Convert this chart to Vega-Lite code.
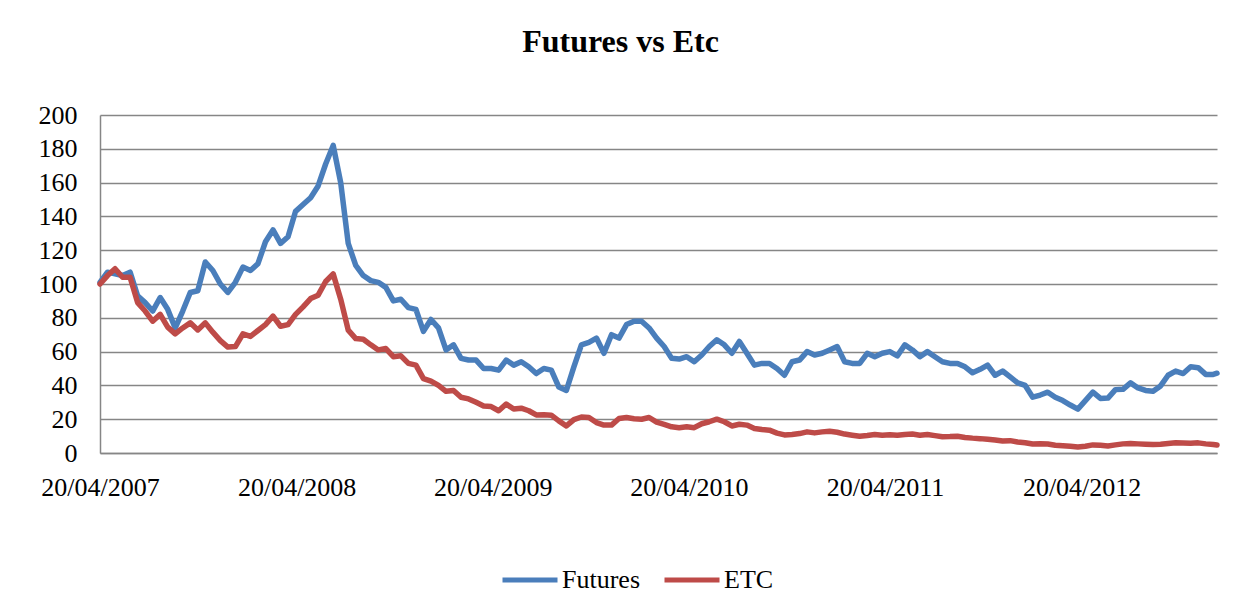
{
  "$schema": "https://vega.github.io/schema/vega-lite/v6.json",
  "width": 1117,
  "height": 338,
  "autosize": {"type": "none"},
  "padding": {"left": 100, "top": 115, "right": 33, "bottom": 159},
  "background": "white",
  "title": {
    "text": "Futures vs Etc",
    "font": "Liberation Serif",
    "fontSize": 32,
    "fontWeight": "bold",
    "color": "black",
    "anchor": "middle",
    "dx": -38,
    "baseline": "alphabetic",
    "offset": 18
  },
  "config": {
    "view": {"stroke": null},
    "axis": {"labelFont": "Liberation Serif", "labelFontSize": 26, "labelColor": "black"}
  },
  "data": {"values": [
    {"d":"2007-04-20","Futures":101,"ETC":100},
    {"d":"2007-05-04","Futures":107,"ETC":105},
    {"d":"2007-05-18","Futures":106,"ETC":109},
    {"d":"2007-06-01","Futures":105,"ETC":104},
    {"d":"2007-06-15","Futures":107,"ETC":104},
    {"d":"2007-06-29","Futures":93,"ETC":89},
    {"d":"2007-07-13","Futures":89,"ETC":84},
    {"d":"2007-07-27","Futures":84,"ETC":78},
    {"d":"2007-08-10","Futures":92,"ETC":82},
    {"d":"2007-08-24","Futures":85,"ETC":74.5},
    {"d":"2007-09-07","Futures":74,"ETC":70.5},
    {"d":"2007-09-21","Futures":84,"ETC":74},
    {"d":"2007-10-05","Futures":95,"ETC":77},
    {"d":"2007-10-19","Futures":96,"ETC":72.8},
    {"d":"2007-11-02","Futures":113,"ETC":77},
    {"d":"2007-11-16","Futures":108,"ETC":71.5},
    {"d":"2007-11-30","Futures":100,"ETC":66.5},
    {"d":"2007-12-14","Futures":95,"ETC":62.7},
    {"d":"2007-12-28","Futures":101,"ETC":63},
    {"d":"2008-01-11","Futures":110,"ETC":70.5},
    {"d":"2008-01-25","Futures":108,"ETC":69},
    {"d":"2008-02-08","Futures":112,"ETC":72.5},
    {"d":"2008-02-22","Futures":125,"ETC":76},
    {"d":"2008-03-07","Futures":132,"ETC":81},
    {"d":"2008-03-21","Futures":124,"ETC":75},
    {"d":"2008-04-04","Futures":128,"ETC":76},
    {"d":"2008-04-18","Futures":143,"ETC":82},
    {"d":"2008-05-02","Futures":147,"ETC":86.5},
    {"d":"2008-05-16","Futures":151,"ETC":91.4},
    {"d":"2008-05-30","Futures":158,"ETC":93.4},
    {"d":"2008-06-13","Futures":171,"ETC":101.5},
    {"d":"2008-06-27","Futures":182,"ETC":106},
    {"d":"2008-07-11","Futures":160,"ETC":91},
    {"d":"2008-07-25","Futures":124,"ETC":72.7},
    {"d":"2008-08-08","Futures":111,"ETC":67.7},
    {"d":"2008-08-22","Futures":105,"ETC":67.3},
    {"d":"2008-09-05","Futures":102,"ETC":64},
    {"d":"2008-09-19","Futures":101,"ETC":61},
    {"d":"2008-10-03","Futures":98,"ETC":61.8},
    {"d":"2008-10-17","Futures":90,"ETC":57},
    {"d":"2008-10-31","Futures":91,"ETC":57.5},
    {"d":"2008-11-14","Futures":86,"ETC":53},
    {"d":"2008-11-28","Futures":85,"ETC":52},
    {"d":"2008-12-12","Futures":72,"ETC":44},
    {"d":"2008-12-26","Futures":79,"ETC":42.5},
    {"d":"2009-01-09","Futures":74,"ETC":40},
    {"d":"2009-01-23","Futures":61,"ETC":36.5},
    {"d":"2009-02-06","Futures":64,"ETC":37},
    {"d":"2009-02-20","Futures":56,"ETC":33},
    {"d":"2009-03-06","Futures":55,"ETC":32},
    {"d":"2009-03-20","Futures":55,"ETC":30},
    {"d":"2009-04-03","Futures":50,"ETC":27.8},
    {"d":"2009-04-17","Futures":50,"ETC":27.5},
    {"d":"2009-05-01","Futures":49,"ETC":25},
    {"d":"2009-05-15","Futures":55,"ETC":29},
    {"d":"2009-05-29","Futures":52,"ETC":26},
    {"d":"2009-06-12","Futures":54,"ETC":26.5},
    {"d":"2009-06-26","Futures":51,"ETC":25},
    {"d":"2009-07-10","Futures":47,"ETC":22.5},
    {"d":"2009-07-24","Futures":50,"ETC":22.7},
    {"d":"2009-08-07","Futures":49,"ETC":22.4},
    {"d":"2009-08-21","Futures":39,"ETC":19},
    {"d":"2009-09-04","Futures":37,"ETC":16},
    {"d":"2009-09-18","Futures":51,"ETC":19.8},
    {"d":"2009-10-02","Futures":64,"ETC":21.3},
    {"d":"2009-10-16","Futures":65.5,"ETC":21},
    {"d":"2009-10-30","Futures":68,"ETC":18},
    {"d":"2009-11-13","Futures":59,"ETC":16.5},
    {"d":"2009-11-27","Futures":70,"ETC":16.5},
    {"d":"2009-12-11","Futures":68,"ETC":20.4},
    {"d":"2009-12-25","Futures":76,"ETC":21},
    {"d":"2010-01-08","Futures":78,"ETC":20.3},
    {"d":"2010-01-22","Futures":78,"ETC":20},
    {"d":"2010-02-05","Futures":74,"ETC":21},
    {"d":"2010-02-19","Futures":68,"ETC":18.3},
    {"d":"2010-03-05","Futures":63,"ETC":17},
    {"d":"2010-03-19","Futures":56,"ETC":15.5},
    {"d":"2010-04-02","Futures":55.6,"ETC":15},
    {"d":"2010-04-16","Futures":57,"ETC":15.5},
    {"d":"2010-04-30","Futures":54,"ETC":15},
    {"d":"2010-05-14","Futures":58,"ETC":17.3},
    {"d":"2010-05-28","Futures":63,"ETC":18.5},
    {"d":"2010-06-11","Futures":67,"ETC":20},
    {"d":"2010-06-25","Futures":64,"ETC":18.5},
    {"d":"2010-07-09","Futures":59,"ETC":16},
    {"d":"2010-07-23","Futures":66,"ETC":17},
    {"d":"2010-08-06","Futures":59,"ETC":16.5},
    {"d":"2010-08-20","Futures":52,"ETC":14.5},
    {"d":"2010-09-03","Futures":53,"ETC":13.9},
    {"d":"2010-09-17","Futures":53,"ETC":13.5},
    {"d":"2010-10-01","Futures":50,"ETC":11.8},
    {"d":"2010-10-15","Futures":46,"ETC":10.7},
    {"d":"2010-10-29","Futures":54,"ETC":11},
    {"d":"2010-11-12","Futures":55,"ETC":11.5},
    {"d":"2010-11-26","Futures":60,"ETC":12.5},
    {"d":"2010-12-10","Futures":58,"ETC":11.9},
    {"d":"2010-12-24","Futures":59,"ETC":12.5},
    {"d":"2011-01-07","Futures":61,"ETC":12.9},
    {"d":"2011-01-21","Futures":63,"ETC":12.3},
    {"d":"2011-02-04","Futures":54,"ETC":11.2},
    {"d":"2011-02-18","Futures":53,"ETC":10.5},
    {"d":"2011-03-04","Futures":53,"ETC":9.9},
    {"d":"2011-03-18","Futures":59,"ETC":10.4},
    {"d":"2011-04-01","Futures":57,"ETC":11},
    {"d":"2011-04-15","Futures":59,"ETC":10.5},
    {"d":"2011-04-29","Futures":60,"ETC":10.8},
    {"d":"2011-05-13","Futures":57.5,"ETC":10.5},
    {"d":"2011-05-27","Futures":64,"ETC":11},
    {"d":"2011-06-10","Futures":61,"ETC":11.2},
    {"d":"2011-06-24","Futures":57,"ETC":10.5},
    {"d":"2011-07-08","Futures":60,"ETC":11},
    {"d":"2011-07-22","Futures":57,"ETC":10.3},
    {"d":"2011-08-05","Futures":54,"ETC":9.6},
    {"d":"2011-08-19","Futures":53,"ETC":9.7},
    {"d":"2011-09-02","Futures":53,"ETC":9.9},
    {"d":"2011-09-16","Futures":51,"ETC":9.2},
    {"d":"2011-09-30","Futures":47.5,"ETC":8.8},
    {"d":"2011-10-14","Futures":49.5,"ETC":8.5},
    {"d":"2011-10-28","Futures":52,"ETC":8.1},
    {"d":"2011-11-11","Futures":46,"ETC":7.7},
    {"d":"2011-11-25","Futures":48.5,"ETC":7.1},
    {"d":"2011-12-09","Futures":45,"ETC":7.3},
    {"d":"2011-12-23","Futures":41.5,"ETC":6.5},
    {"d":"2012-01-06","Futures":40,"ETC":6.1},
    {"d":"2012-01-20","Futures":33,"ETC":5.3},
    {"d":"2012-02-03","Futures":34.3,"ETC":5.5},
    {"d":"2012-02-17","Futures":36,"ETC":5.3},
    {"d":"2012-03-02","Futures":33,"ETC":4.6},
    {"d":"2012-03-16","Futures":31,"ETC":4.3},
    {"d":"2012-03-30","Futures":28.4,"ETC":4},
    {"d":"2012-04-13","Futures":26,"ETC":3.6},
    {"d":"2012-04-27","Futures":31,"ETC":4},
    {"d":"2012-05-11","Futures":36,"ETC":4.8},
    {"d":"2012-05-25","Futures":32.3,"ETC":4.6},
    {"d":"2012-06-08","Futures":32.5,"ETC":4.2},
    {"d":"2012-06-22","Futures":37.5,"ETC":4.8},
    {"d":"2012-07-06","Futures":37.7,"ETC":5.4},
    {"d":"2012-07-20","Futures":41.5,"ETC":5.6},
    {"d":"2012-08-03","Futures":38.5,"ETC":5.4},
    {"d":"2012-08-17","Futures":37,"ETC":5.2},
    {"d":"2012-08-31","Futures":36.5,"ETC":5},
    {"d":"2012-09-14","Futures":39.7,"ETC":5.2},
    {"d":"2012-09-28","Futures":46,"ETC":5.6},
    {"d":"2012-10-12","Futures":48.5,"ETC":6},
    {"d":"2012-10-26","Futures":47,"ETC":5.9},
    {"d":"2012-11-09","Futures":51,"ETC":5.8},
    {"d":"2012-11-23","Futures":50.5,"ETC":6},
    {"d":"2012-12-07","Futures":46.5,"ETC":5.4},
    {"d":"2012-12-21","Futures":46.5,"ETC":5},
    {"d":"2012-12-28","Futures":47.2,"ETC":4.7}
  ]},
  "transform": [{"fold": ["Futures", "ETC"], "as": ["series", "value"]}],
  "mark": {"type": "line", "strokeWidth": 5.5, "strokeJoin": "round", "strokeCap": "round"},
  "encoding": {
    "x": {
      "field": "d", "type": "temporal",
      "scale": {"type": "utc", "domain": [{"year": 2007, "month": 4, "date": 20, "utc": true}, {"year": 2012, "month": 12, "date": 28, "utc": true}], "nice": false},
      "axis": {
        "title": null,
        "values": [
          {"year": 2007, "month": 4, "date": 20, "utc": true},
          {"year": 2008, "month": 4, "date": 20, "utc": true},
          {"year": 2009, "month": 4, "date": 20, "utc": true},
          {"year": 2010, "month": 4, "date": 20, "utc": true},
          {"year": 2011, "month": 4, "date": 20, "utc": true},
          {"year": 2012, "month": 4, "date": 20, "utc": true}
        ],
        "format": "%d/%m/%Y",
        "labelFlush": false,
        "labelOverlap": false,
        "ticks": false,
        "grid": false,
        "domainColor": "#868686",
        "domainWidth": 1.5,
        "labelPadding": 21,
        "labelBaseline": "top"
      }
    },
    "y": {
      "field": "value", "type": "quantitative",
      "scale": {"domain": [0, 200], "nice": false},
      "axis": {
        "title": null,
        "values": [0, 20, 40, 60, 80, 100, 120, 140, 160, 180, 200],
        "ticks": false,
        "grid": true,
        "gridColor": "#868686",
        "gridWidth": 1.5,
        "domainColor": "#868686",
        "domainWidth": 1.5,
        "labelPadding": 23,
        "labelFlush": false
      }
    },
    "color": {
      "field": "series", "type": "nominal",
      "scale": {"domain": ["Futures", "ETC"], "range": ["#4A7EBB", "#BE4B48"]},
      "legend": {
        "title": null,
        "orient": "none",
        "direction": "horizontal",
        "legendX": 400,
        "legendY": 435,
        "padding": 0,
        "symbolType": "stroke",
        "symbolSize": 3025,
        "symbolStrokeWidth": 5,
        "labelFont": "Liberation Serif",
        "labelFontSize": 26,
        "labelColor": "black",
        "labelOffset": 2,
        "columnPadding": 14
      }
    }
  }
}
